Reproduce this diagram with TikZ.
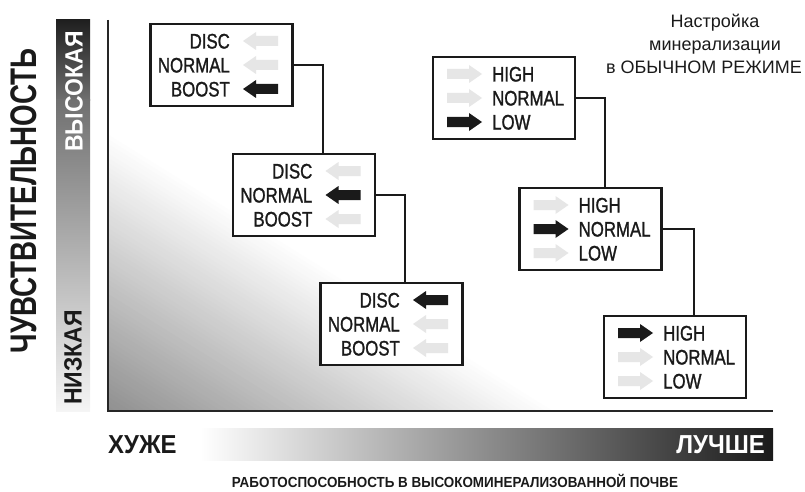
\documentclass[tikz,border=0pt]{standalone}
\usepackage{fontspec}
\setmainfont{Liberation Sans}
\newfontfamily\cnd[FakeStretch=0.80,FakeBold=1.2]{Liberation Sans}
\newfontfamily\bcnd[FakeStretch=0.92]{Liberation Sans}
\newfontfamily\hcnd[FakeStretch=0.75]{Liberation Sans}
\definecolor{ink}{HTML}{1A1A1A}
\definecolor{pale}{HTML}{E6E6E6}
\begin{document}
\begin{tikzpicture}[x=1pt,y=-1pt,
  box/.style={draw=ink, line width=2.6pt, fill=white, minimum width=142pt, minimum height=82pt, inner sep=0pt},
  conn/.style={draw=ink, line width=1.8pt},
  lbl/.style={font=\cnd\fontsize{21}{25}\selectfont, text=ink, inner sep=0pt},
  blbl/.style={font=\bcnd\bfseries\fontsize{26}{30}\selectfont, inner sep=0pt},
  larr/.pic={\fill[#1] (0,0) -- (13,-9) -- (13,-5) -- (35,-5) -- (35,5) -- (13,5) -- (13,9) -- cycle;},
  rarr/.pic={\fill[#1] (35,0) -- (22,-9) -- (22,-5) -- (0,-5) -- (0,5) -- (22,5) -- (22,9) -- cycle;}
]
\useasboundingbox (0,0) rectangle (805,492);
% plot-area gradient
\foreach \i in {0,...,59}{
  \pgfmathsetmacro\s{1-\i/60}
  \pgfmathsetmacro\k{44*(1-\s)}
  \fill[black!\k] (108,411) -- (108,{411-281*\s}) -- ({108+452*\s},411) -- cycle;
}
% left sensitivity bar
\shade[top color=black!88, bottom color=black!56] (56,20) rectangle (90,101);
\shade[top color=black!56, bottom color=black!4] (56,100) rectangle (90,411);
% axes
\draw[line width=1.4pt, draw=black!85] (108,20) -- (108,411) -- (773,411);
% bottom bar
\shade[left color=white, middle color=black!45, right color=ink] (200,428) rectangle (773,460);
% axis texts
\node[blbl, text=ink, anchor=base west] (worse) at (108,453) {ХУЖЕ};
\node[blbl, text=white, anchor=base east] (better) at (765,453) {ЛУЧШЕ};
\node[font=\bcnd\bfseries\fontsize{14.6}{16}\selectfont, text=ink, anchor=base, inner sep=0pt] (xtitle) at (455,487) {РАБОТОСПОСОБНОСТЬ В ВЫСОКОМИНЕРАЛИЗОВАННОЙ ПОЧВЕ};
\node[font=\hcnd\bfseries\fontsize{37}{40}\selectfont, text=ink, rotate=90, inner sep=0pt] (ytitle) at (23.5,201) {ЧУВСТВИТЕЛЬНОСТЬ};
\node[font=\bcnd\bfseries\fontsize{25}{30}\selectfont, text=white, rotate=90, inner sep=0pt] (high) at (74,91.5) {ВЫСОКАЯ};
\node[font=\bcnd\bfseries\fontsize{25}{30}\selectfont, text=ink, rotate=90, inner sep=0pt] (low) at (73,357.5) {НИЗКАЯ};
% top-right caption
\node[font=\fontsize{18}{22}\selectfont, text=ink, anchor=base, inner sep=0pt] (n1) at (715,28) {Настройка};
\node[font=\fontsize{18}{22}\selectfont, text=ink, anchor=base, inner sep=0pt] (n2) at (715,51) {минерализации};
\node[font=\fontsize{18}{22}\selectfont, text=ink, anchor=base, inner sep=0pt] (n3) at (704,74) {в ОБЫЧНОМ РЕЖИМЕ};
% boxes
\node[box] (b1) at (221.5,65) {};
\node[box] (b2) at (304,195) {};
\node[box] (b3) at (391.5,324) {};
\node[box] (b4) at (504,98) {};
\node[box] (b5) at (590.5,229) {};
\node[box] (b6) at (675,357) {};
% box 1
\node[lbl, anchor=base east] (b1a) at ([shift={(8.5,-16.5)}]b1.center) {DISC};
\node[lbl, anchor=base east] (b1b) at ([shift={(8.5,7.5)}]b1.center) {NORMAL};
\node[lbl, anchor=base east] (b1c) at ([shift={(8.5,31.5)}]b1.center) {BOOST};
\pic at ([shift={(21.5,-24)}]b1.center) {larr=pale};
\pic at ([shift={(21.5,0)}]b1.center) {larr=pale};
\pic at ([shift={(21.5,24)}]b1.center) {larr=ink};
% box 2
\node[lbl, anchor=base east] (b2a) at ([shift={(8.5,-16.5)}]b2.center) {DISC};
\node[lbl, anchor=base east] (b2b) at ([shift={(8.5,7.5)}]b2.center) {NORMAL};
\node[lbl, anchor=base east] (b2c) at ([shift={(8.5,31.5)}]b2.center) {BOOST};
\pic at ([shift={(21.5,-24)}]b2.center) {larr=pale};
\pic at ([shift={(21.5,0)}]b2.center) {larr=ink};
\pic at ([shift={(21.5,24)}]b2.center) {larr=pale};
% box 3
\node[lbl, anchor=base east] (b3a) at ([shift={(8.5,-16.5)}]b3.center) {DISC};
\node[lbl, anchor=base east] (b3b) at ([shift={(8.5,7.5)}]b3.center) {NORMAL};
\node[lbl, anchor=base east] (b3c) at ([shift={(8.5,31.5)}]b3.center) {BOOST};
\pic at ([shift={(21.5,-24)}]b3.center) {larr=ink};
\pic at ([shift={(21.5,0)}]b3.center) {larr=pale};
\pic at ([shift={(21.5,24)}]b3.center) {larr=pale};
% box 4
\node[lbl, anchor=base west] (b4a) at ([shift={(-12,-16.5)}]b4.center) {HIGH};
\node[lbl, anchor=base west] (b4b) at ([shift={(-12,7.5)}]b4.center) {NORMAL};
\node[lbl, anchor=base west] (b4c) at ([shift={(-12,31.5)}]b4.center) {LOW};
\pic at ([shift={(-57,-24)}]b4.center) {rarr=pale};
\pic at ([shift={(-57,0)}]b4.center) {rarr=pale};
\pic at ([shift={(-57,24)}]b4.center) {rarr=ink};
% box 5
\node[lbl, anchor=base west] (b5a) at ([shift={(-12,-16.5)}]b5.center) {HIGH};
\node[lbl, anchor=base west] (b5b) at ([shift={(-12,7.5)}]b5.center) {NORMAL};
\node[lbl, anchor=base west] (b5c) at ([shift={(-12,31.5)}]b5.center) {LOW};
\pic at ([shift={(-57,-24)}]b5.center) {rarr=pale};
\pic at ([shift={(-57,0)}]b5.center) {rarr=ink};
\pic at ([shift={(-57,24)}]b5.center) {rarr=pale};
% box 6
\node[lbl, anchor=base west] (b6a) at ([shift={(-12,-16.5)}]b6.center) {HIGH};
\node[lbl, anchor=base west] (b6b) at ([shift={(-12,7.5)}]b6.center) {NORMAL};
\node[lbl, anchor=base west] (b6c) at ([shift={(-12,31.5)}]b6.center) {LOW};
\pic at ([shift={(-57,-24)}]b6.center) {rarr=ink};
\pic at ([shift={(-57,0)}]b6.center) {rarr=pale};
\pic at ([shift={(-57,24)}]b6.center) {rarr=pale};
% connectors
\draw[conn] (b1.east) -| ([xshift=19pt]b2.north);
\draw[conn] (b2.east) -| ([xshift=13.5pt]b3.north);
\draw[conn] (b4.east) -| ([xshift=14.5pt]b5.north);
\draw[conn] (b5.east) -| ([xshift=19pt]b6.north);
\end{tikzpicture}
\end{document}
